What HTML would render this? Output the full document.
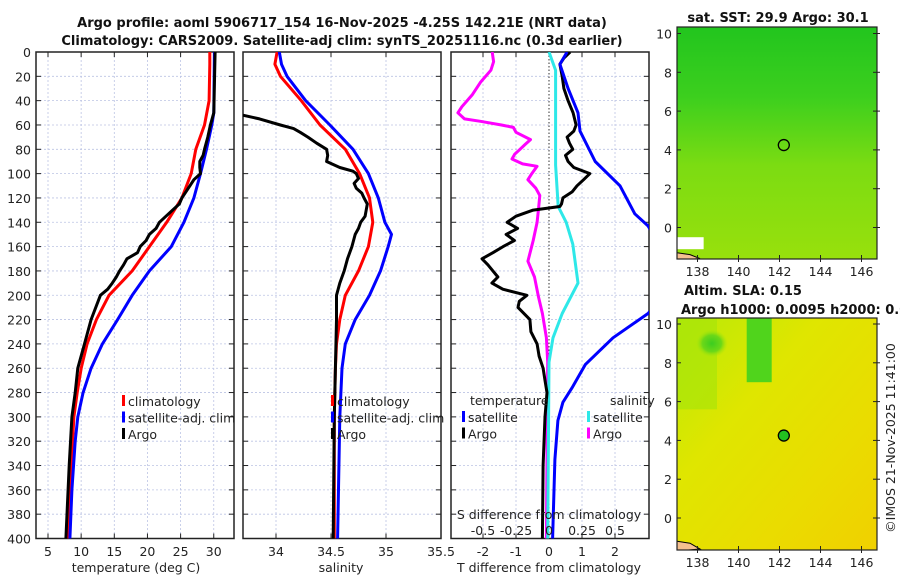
<!DOCTYPE html>
<html><head><meta charset="utf-8">
<style>
html,body{margin:0;padding:0;background:#fff;width:900px;height:580px;overflow:hidden}
svg{display:block;font-family:"DejaVu Sans","Liberation Sans",sans-serif}
</style></head>
<body>
<svg id="chart" width="900" height="580" viewBox="0 0 900 580" xmlns="http://www.w3.org/2000/svg">
<defs>
<linearGradient id="sstGrad" x1="0" y1="0" x2="0" y2="1">
<stop offset="0" stop-color="#22c51e"/><stop offset="0.3" stop-color="#3ccf1e"/><stop offset="0.6" stop-color="#7cdc12"/><stop offset="1" stop-color="#98e00c"/>
</linearGradient>
<linearGradient id="slaGrad" x1="0" y1="0" x2="1" y2="1">
<stop offset="0" stop-color="#b8ea08"/><stop offset="0.35" stop-color="#dfe600"/><stop offset="0.7" stop-color="#eadc00"/><stop offset="1" stop-color="#f0d000"/>
</linearGradient>
<radialGradient id="blob" cx="0.5" cy="0.5" r="0.5"><stop offset="0" stop-color="#3ccd20"/><stop offset="0.6" stop-color="#6cd818"/><stop offset="1" stop-color="#a8e60a" stop-opacity="0"/></radialGradient>
</defs>
</svg>
<script>
// ---- data ----
const depthRed=[0,10,40,60,80,100,120,140,160,180,200,220,240,260,280,300,340,400];
const tempClim=[29.4,29.4,29.3,28.6,27.3,26.6,25.2,22.9,20.3,17.7,14.2,12.3,10.9,10.0,9.4,8.9,8.5,8.0];
const depthBlue=[0,50,60,80,100,120,140,160,180,200,220,240,260,280,300,320,360,400];
const tempSat=[30.1,30.0,29.7,28.9,28.0,27.0,25.5,23.6,20.3,17.7,15.5,13.2,11.5,10.3,9.5,9.1,8.6,8.3];
const depthArgo=[0,50,60,70,80,85,90,95,100,105,110,120,125,130,135,140,145,150,155,160,165,170,175,180,185,190,195,200,220,240,260,280,300,340,400];
const tempArgo=[30.2,30.0,29.5,29.1,28.6,28.4,27.9,27.9,28.0,27.0,26.4,25.2,24.8,23.8,22.8,21.8,21.3,20.3,19.8,18.9,18.5,16.9,16.4,15.8,15.3,14.7,14.0,12.9,11.5,10.5,9.5,9.1,8.6,8.2,7.7];

const depthS=[0,10,20,40,60,80,100,120,140,160,180,200,220,240,260,300,400];
const salClim=[34.01,33.99,34.04,34.23,34.40,34.63,34.76,34.85,34.88,34.84,34.75,34.63,34.58,34.55,34.54,34.53,34.53];
const depthSB=[0,10,20,40,60,80,100,120,140,150,160,180,200,220,240,260,300,400];
const salSat=[34.03,34.05,34.10,34.27,34.49,34.70,34.84,34.93,34.99,35.05,35.02,34.95,34.85,34.72,34.63,34.60,34.58,34.56];
const depthSA=[52,55,60,63,66,70,75,80,85,90,95,98,100,104,108,112,116,120,125,130,135,140,145,150,160,170,180,190,200,220,260,300,400];
const salArgo=[33.70,33.85,34.04,34.16,34.22,34.29,34.37,34.46,34.47,34.46,34.58,34.70,34.73,34.75,34.71,34.73,34.78,34.80,34.83,34.82,34.81,34.77,34.75,34.72,34.69,34.65,34.62,34.58,34.55,34.55,34.54,34.53,34.52];

const depthDT=[0,5,10,20,30,40,50,60,65,70,75,80,85,90,95,100,105,110,115,120,125,127,130,135,140,145,150,155,160,165,170,175,180,185,190,195,200,205,210,220,230,240,250,260,270,280,300,340,400];
const dTArgo=[0.64,0.45,0.33,0.40,0.45,0.58,0.73,0.82,0.75,0.55,0.62,0.72,0.5,0.58,0.75,1.24,1.05,0.85,0.7,0.42,0.38,0.33,-0.48,-1.0,-1.27,-0.95,-1.3,-1.05,-1.39,-1.7,-2.03,-1.85,-1.7,-1.55,-1.73,-1.4,-0.67,-0.9,-0.94,-0.58,-0.55,-0.36,-0.3,-0.18,-0.12,-0.06,-0.12,-0.18,-0.2];
const depthDTS=[0,10,30,50,65,90,110,133,143,170,200,215,235,257,276,288,303,335,400];
const dTSat=[0.55,0.33,0.58,0.88,0.94,1.4,2.15,2.6,3.0,3.6,3.5,3.0,1.94,1.1,0.7,0.42,0.27,0.18,0.11];
const depthDSS=[0,15,45,93,127,140,158,190,215,235,255,400];
const dSSat=[0.0,0.05,0.05,0.05,0.07,0.13,0.18,0.22,0.10,0.03,0.0,-0.01];
const depthDSA=[0,8,15,25,35,45,50,55,57,60,62,66,72,76,80,84,88,92,94,100,105,112,118,130,140,155,172,185,201,215,235,255,400];
const dSArgo=[-0.43,-0.42,-0.44,-0.52,-0.58,-0.66,-0.69,-0.64,-0.52,-0.36,-0.27,-0.25,-0.14,-0.18,-0.22,-0.26,-0.28,-0.20,-0.09,-0.13,-0.16,-0.10,-0.07,-0.08,-0.09,-0.12,-0.16,-0.11,-0.08,-0.05,-0.02,-0.01,-0.02];

const depthTicks=[0,20,40,60,80,100,120,140,160,180,200,220,240,260,280,300,320,340,360,380,400];
const tTicks=[5,10,15,20,25,30];
const sTicks=[34,34.5,35,35.5];
const dtTicks=[-2,-1,0,1,2];
const dtTickLabels=["-2","-1","0","1","2"];
const dsTicks=[-0.5,-0.25,0,0.25,0.5];
const latTicks=[0,2,4,6,8,10];
const lonTicks=[138,140,142,144,146];
const argoPos=[142.21,4.25];

// ---- scales ----
const Y0=52,Y1=538.5;
const yD=d=>Y0+d*(Y1-Y0)/400;
const P1={x0:36,x1:234},P2={x0:243,x1:441},P3={x0:451,x1:649};
const xT=t=>48+(t-5)*6.63;
const xS=s=>276+(s-34)*110;
const xDT=v=>549+v*33;
const xDS=v=>549+v*132;
const NS='http://www.w3.org/2000/svg';
const svg=document.getElementById('chart');
function mk(tag,attrs,parent){const e=document.createElementNS(NS,tag);for(const k in attrs)e.setAttribute(k,attrs[k]);(parent||svg).appendChild(e);return e;}
function txt(s,attrs,parent){const e=mk('text',attrs,parent);e.textContent=s;return e;}
const FS=12.5;

function panel(P,name,xs,xgrid,zeroX){
  const g=mk('g',{});
  
  
  mk('clipPath',{id:'clip-'+name},g);
  mk('rect',{x:P.x0,y:Y0,width:P.x1-P.x0,height:Y1-Y0},g.lastChild);
  depthTicks.forEach(d=>{mk('line',{x1:P.x0,x2:P.x1,y1:yD(d),y2:yD(d),stroke:'#bcc4e4','stroke-width':0.8,'stroke-dasharray':'2,2'},g);
    mk('line',{x1:P.x0,x2:P.x0+5,y1:yD(d),y2:yD(d),stroke:'#222'},g);mk('line',{x1:P.x1-5,x2:P.x1,y1:yD(d),y2:yD(d),stroke:'#222'},g);});
  xgrid.forEach(v=>{const x=xs(v);if(x<P.x0+1||x>P.x1-1)return;mk('line',{x1:x,x2:x,y1:Y0,y2:Y1,stroke:'#bcc4e4','stroke-width':0.8,'stroke-dasharray':'2,2'},g);
    mk('line',{x1:x,x2:x,y1:Y1-5,y2:Y1,stroke:'#222'},g);mk('line',{x1:x,x2:x,y1:Y0,y2:Y0+5,stroke:'#222'},g);});
  if(zeroX!==undefined)mk('line',{x1:zeroX,x2:zeroX,y1:Y0,y2:Y1,stroke:'#333','stroke-width':1,'stroke-dasharray':'1.5,2'},g);
  mk('rect',{x:P.x0,y:Y0,width:P.x1-P.x0,height:Y1-Y0,fill:'none',stroke:'#222','stroke-width':1.5},g);
  return g;
}
function line(g,name,depths,vals,xs,color,clip){
  const pts=depths.map((d,i)=>xs(vals[i]).toFixed(1)+','+yD(d).toFixed(1)).join(' ');
  const p=mk('polyline',{points:pts,fill:'none',stroke:color,'stroke-width':3,'stroke-linejoin':'round','clip-path':'url(#clip-'+clip+')'},g);
  
  
}
function legend(g,items,x,y0,name){
  items.forEach((it,i)=>{const y=y0+i*16.5;
    mk('rect',{x:x,y:y-6,width:3,height:11,fill:it[1]},g);
    const t=txt(it[0],{x:x+6,y:y+5,'font-size':FS,fill:'#222'},g);
    
    
  });
}
// titles
const t1=txt('Argo profile: aoml 5906717_154 16-Nov-2025 -4.25S 142.21E (NRT data)',{x:342,y:27,'font-size':13,'font-weight':'bold','text-anchor':'middle',fill:'#111'});


const t2=txt('Climatology: CARS2009. Satellite-adj clim: synTS_20251116.nc (0.3d earlier)',{x:342,y:45,'font-size':13,'font-weight':'bold','text-anchor':'middle',fill:'#111'});



// panel 1
const g1=panel(P1,'temperature-panel',xT,tTicks);
depthTicks.forEach(d=>{txt(String(d),{x:31,y:yD(d)+5,'font-size':FS,'text-anchor':'end',fill:'#222'},g1);});
line(g1,'temp-climatology-line',depthRed,tempClim,xT,'#f00','temperature-panel');
line(g1,'temp-satellite-line',depthBlue,tempSat,xT,'#00f','temperature-panel');
line(g1,'temp-argo-line',depthArgo,tempArgo,xT,'#000','temperature-panel');
tTicks.forEach(v=>txt(String(v),{x:xT(v),y:556,'font-size':FS,'text-anchor':'middle',fill:'#222'},g1));
const xl1=txt('temperature (deg C)',{x:136,y:572,'font-size':FS,'text-anchor':'middle',fill:'#222'},g1);


legend(g1,[['climatology','#f00'],['satellite-adj. clim','#00f'],['Argo','#000']],122,401,'temp-legend');

// panel 2
const g2=panel(P2,'salinity-panel',xS,sTicks);
line(g2,'sal-climatology-line',depthS,salClim,xS,'#f00','salinity-panel');
line(g2,'sal-satellite-line',depthSB,salSat,xS,'#00f','salinity-panel');
line(g2,'sal-argo-line',depthSA,salArgo,xS,'#000','salinity-panel');
sTicks.forEach(v=>txt(String(v),{x:xS(v),y:556,'font-size':FS,'text-anchor':'middle',fill:'#222'},g2));
const xl2=txt('salinity',{x:341,y:572,'font-size':FS,'text-anchor':'middle',fill:'#222'},g2);


legend(g2,[['climatology','#f00'],['satellite-adj. clim','#00f'],['Argo','#000']],331,401,'sal-legend');

// panel 3
const g3=panel(P3,'difference-panel',xDT,dtTicks.filter(v=>v!==0),xDT(0));
line(g3,'dS-argo-line',depthDSA,dSArgo,xDS,'#f0f','difference-panel');
line(g3,'dS-satellite-line',depthDSS,dSSat,xDS,'#2ee8e8','difference-panel');
line(g3,'dT-argo-line',depthDT,dTArgo,xDT,'#000','difference-panel');
line(g3,'dT-satellite-line',depthDTS,dTSat,xDT,'#00f','difference-panel');
dtTicks.forEach((v,i)=>txt(dtTickLabels[i],{x:xDT(v),y:556,'font-size':FS,'text-anchor':'middle',fill:'#222'},g3));
const xl3=txt('T difference from climatology',{x:549,y:572,'font-size':FS,'text-anchor':'middle',fill:'#222'},g3);


const sl=txt('S difference from climatology',{x:549,y:519,'font-size':FS,'text-anchor':'middle',fill:'#222'},g3);


dsTicks.forEach(v=>txt(String(v),{x:xDS(v),y:535,'font-size':FS,'text-anchor':'middle',fill:'#222'},g3));
txt('temperature',{x:470,y:405,'font-size':FS,fill:'#222'},g3);
txt('salinity',{x:610,y:405,'font-size':FS,fill:'#222'},g3);
legend(g3,[['satellite','#00f'],['Argo','#000']],462,417,'dT-legend');
legend(g3,[['satellite','#2ee8e8'],['Argo','#f0f']],587,417,'dS-legend');

// maps
const lonX=l=>677+(l-137)*20.5;
function map(top,bottom,lat0y,name,fill){
  const g=mk('g',{});
  
  
  const latY=l=>lat0y-l*19.4;
  mk('clipPath',{id:'clip-'+name},g);
  mk('rect',{x:677,y:top,width:200,height:bottom-top},g.lastChild);
  const c=mk('g',{'clip-path':'url(#clip-'+name+')'},g);
  mk('rect',{x:677,y:top,width:200,height:bottom-top,fill:fill},c);
  return {g,c,latY,top,bottom};
}
const m1=map(27,259,227.5,'sst-map','url(#sstGrad)');
mk('rect',{x:677,y:m1.latY(-0.5),width:lonX(138.3)-677,height:12,fill:'#fff'},m1.c);
mk('path',{d:`M677 ${m1.latY(-1.3)} L690 ${m1.latY(-1.4)} L700 ${m1.latY(-1.6)} L677 ${m1.latY(-1.7)}Z`,fill:'#f4c090',stroke:'#000'},m1.c);
const a1=mk('circle',{cx:lonX(argoPos[0]),cy:m1.latY(argoPos[1]),r:5.5,fill:'none',stroke:'#000','stroke-width':1.3},m1.g);


const m2=map(318,550,518,'sla-map','url(#slaGrad)');
mk('rect',{x:677,y:m2.latY(10.5),width:40,height:95,fill:'#a4e40a',opacity:0.6},m2.c);
mk('ellipse',{cx:lonX(138.7),cy:m2.latY(9),rx:16,ry:14,fill:'url(#blob)'},m2.c);
mk('rect',{x:lonX(140.4),y:318,width:25,height:m2.latY(7)-318,fill:'#50d41c'},m2.c);
mk('path',{d:`M677 ${m2.latY(-1.2)} L690 ${m2.latY(-1.3)} L700 ${m2.latY(-1.6)} L677 ${m2.latY(-1.7)}Z`,fill:'#f4c090',stroke:'#000'},m2.c);
const a2=mk('circle',{cx:lonX(argoPos[0]),cy:m2.latY(argoPos[1]),r:5.5,fill:'#22c020',stroke:'#000','stroke-width':1.3},m2.g);


[m1,m2].forEach(m=>{
  mk('rect',{x:677,y:m.top,width:200,height:m.bottom-m.top,fill:'none',stroke:'#222','stroke-width':1.2},m.g);
  latTicks.forEach(l=>{const y=m.latY(l);txt(String(l),{x:672,y:y+5,'font-size':FS,'text-anchor':'end',fill:'#222'},m.g);
    mk('line',{x1:677,x2:681,y1:y,y2:y,stroke:'#222'},m.g);mk('line',{x1:873,x2:880,y1:y,y2:y,stroke:'#222'},m.g);});
  lonTicks.forEach(l=>{const x=lonX(l);txt(String(l),{x:x,y:m.bottom+17,'font-size':FS,'text-anchor':'middle',fill:'#222'},m.g);
    mk('line',{x1:x,x2:x,y1:m.bottom-4,y2:m.bottom+3,stroke:'#222'},m.g);});
});
const mt1=txt('sat. SST: 29.9 Argo: 30.1',{x:778,y:22,'font-size':13,'font-weight':'bold','text-anchor':'middle',fill:'#111'});


const mt2=txt('Altim. SLA: 0.15',{x:684,y:295,'font-size':13,'font-weight':'bold',fill:'#111'});


const mt3=txt('Argo h1000: 0.0095 h2000: 0.025',{x:681,y:314,'font-size':13,'font-weight':'bold',fill:'#111'});


const cr=txt('©IMOS 21-Nov-2025 11:41:00',{x:0,y:0,'font-size':FS,'text-anchor':'middle',fill:'#222',transform:'translate(895,438) rotate(-90)'});


</script>
</body></html>
